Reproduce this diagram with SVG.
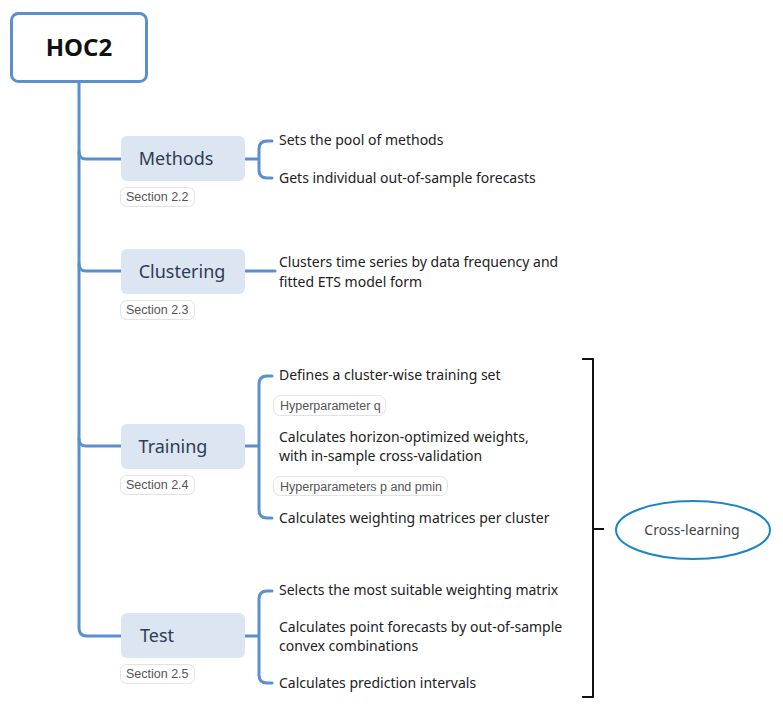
<svg xmlns="http://www.w3.org/2000/svg" width="783" height="708" viewBox="0 0 783 708">
<style>
.conn{fill:none;stroke:#5b8fd0;stroke-width:3;stroke-linecap:round}
.main{fill:#dce6f2}
.mt{font-family:"Noto Sans",sans-serif;font-size:18px;fill:#2e3c55;text-anchor:middle}
.tag{fill:#fff;stroke:#e2e2e2;stroke-width:1}
.tt{font-family:"Liberation Sans",Arial,sans-serif;font-size:12.5px;fill:#555}
.sub{font-family:"Noto Sans",sans-serif;font-size:14px;fill:#222}
</style>
<rect width="783" height="708" fill="#fff"/>
<g id="connectors">
<path class="conn" d="M79 82 V628 Q79 636 87 636 H121"/>
<path class="conn" d="M79 152 Q79 159 86 159 H121"/>
<path class="conn" d="M79 264 Q79 271 86 271 H121"/>
<path class="conn" d="M79 439 Q79 446 86 446 H121"/>
<path class="conn" d="M245 159 H259 M272 141 H267 Q259 141 259 149 V170 Q259 178 267 178 H272"/>
<path class="conn" d="M245 271 H275"/>
<path class="conn" d="M245 446 H259 M272 376 H267 Q259 376 259 384 V510 Q259 518 267 518 H272"/>
<path class="conn" d="M245 636 H259 M272 591 H267 Q259 591 259 599 V675 Q259 683 267 683 H272"/>
<path fill="none" stroke="#111" stroke-width="2" d="M582 359 H593 V697 H582 M593 529 H604"/>
</g>
<g id="hoc2">
<rect x="11.5" y="13.5" width="135" height="68" rx="7" fill="#fff" stroke="#5b8fd0" stroke-width="3"/>
<text x="79" y="56" font-family="Noto Sans,sans-serif" font-size="24" font-weight="bold" fill="#111" text-anchor="middle">HOC2</text>
</g>
<g id="methods">
<rect class="main" x="121" y="136" width="124" height="45" rx="6"/>
<text class="mt" x="176" y="165">Methods</text>
<rect class="tag" x="120.5" y="187.5" width="74" height="19" rx="6"/>
<text class="tt" x="126" y="201">Section 2.2</text>
</g>
<g id="methods-items">
<text class="sub" x="279" y="145">Sets the pool of methods</text>
<text class="sub" x="279" y="183">Gets individual out-of-sample forecasts</text>
</g>
<g id="clustering">
<rect class="main" x="121" y="249" width="124" height="45" rx="6"/>
<text class="mt" x="182" y="278">Clustering</text>
<rect class="tag" x="120.5" y="300.5" width="74" height="19" rx="6"/>
<text class="tt" x="126" y="314">Section 2.3</text>
</g>
<g id="clustering-items">
<text class="sub" x="279" y="267">Clusters time series by data frequency and</text>
<text class="sub" x="279" y="287">fitted ETS model form</text>
</g>
<g id="training">
<rect class="main" x="121" y="424" width="124" height="45" rx="6"/>
<text class="mt" x="173" y="453">Training</text>
<rect class="tag" x="120.5" y="475.5" width="74" height="19" rx="6"/>
<text class="tt" x="126" y="489">Section 2.4</text>
</g>
<g id="training-items">
<text class="sub" x="279" y="380">Defines a cluster-wise training set</text>
<rect class="tag" x="273.5" y="395.5" width="112" height="20" rx="7"/>
<text class="tt" x="280" y="410">Hyperparameter q</text>
<text class="sub" x="279" y="442">Calculates horizon-optimized weights,</text>
<text class="sub" x="279" y="461">with in-sample cross-validation</text>
<rect class="tag" x="273.5" y="476.5" width="174" height="19" rx="7"/>
<text class="tt" x="280" y="491">Hyperparameters p and pmin</text>
<text class="sub" x="279" y="523">Calculates weighting matrices per cluster</text>
</g>
<g id="test">
<rect class="main" x="121" y="613" width="124" height="45" rx="6"/>
<text class="mt" x="157" y="642">Test</text>
<rect class="tag" x="120.5" y="664.5" width="74" height="19" rx="6"/>
<text class="tt" x="126" y="678">Section 2.5</text>
</g>
<g id="test-items">
<text class="sub" x="279" y="595">Selects the most suitable weighting matrix</text>
<text class="sub" x="279" y="632">Calculates point forecasts by out-of-sample</text>
<text class="sub" x="279" y="651">convex combinations</text>
<text class="sub" x="279" y="688">Calculates prediction intervals</text>
</g>
<g id="cross-learning">
<ellipse cx="693" cy="530" rx="77" ry="29" fill="#fff" stroke="#1a85c8" stroke-width="2"/>
<text x="692" y="535" font-family="Noto Sans,sans-serif" font-size="14" fill="#444" text-anchor="middle">Cross-learning</text>
</g>
</svg>
